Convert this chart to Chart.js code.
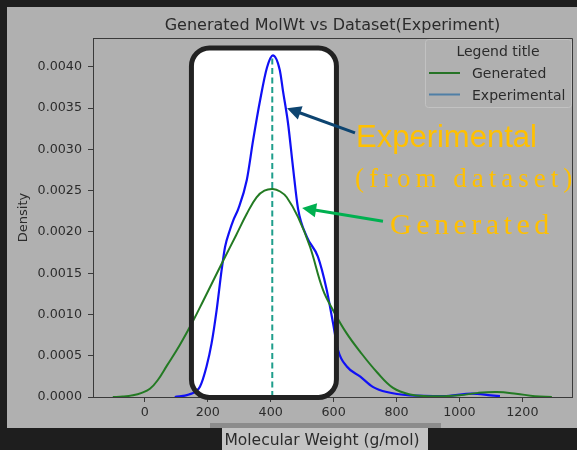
<!DOCTYPE html>
<html lang="en">
<head>
  <meta charset="UTF-8">
  <title>Generated MolWt vs Dataset</title>
  <style>
    body { margin: 0; background: #1e1e1e; }
    #wrap { width: 577px; height: 450px; position: relative; }
  </style>
</head>
<body>
<script src="https://cdn.jsdelivr.net/npm/chart.js"></script>
<div id="wrap"><canvas id="myChart"></canvas></div>

<script>
  // values
  const genX = [-102, -70, -38, -10, 16, 40, 70, 111, 153, 186, 216, 250, 290, 324, 355, 380, 407, 430, 451, 487, 525, 566, 600, 640, 684, 738, 789, 843, 900, 950, 1000, 1060, 1119, 1180, 1240, 1294];
  const genY = [0, 0.000005, 0.00002, 0.00005, 0.0001, 0.0002, 0.00038, 0.00063, 0.00092, 0.00117, 0.0014, 0.00166, 0.00196, 0.00222, 0.00242, 0.0025, 0.00252, 0.00249, 0.00242, 0.00218, 0.00182, 0.0013, 0.00104, 0.00078, 0.00055, 0.0003, 0.00011, 0.00003, 0.00001, 0.00001, 0.00002, 0.00005, 0.00006, 0.00004, 0.00001, 0];
  const expX = [95, 140, 175, 196, 212, 228, 244, 255, 270, 281, 297, 324, 344, 366, 388, 407, 429, 439, 455, 471, 487, 515, 550, 578, 598, 614, 642, 684, 726, 769, 843, 950, 1040, 1100, 1129];
  const expY = [0, 0.00003, 0.000125, 0.00037, 0.00065, 0.00105, 0.00154, 0.00182, 0.00202, 0.00214, 0.00228, 0.00263, 0.00311, 0.00359, 0.00399, 0.00414, 0.00396, 0.00371, 0.00332, 0.00278, 0.00228, 0.00194, 0.0017, 0.0013, 0.0009, 0.00057, 0.00037, 0.00025, 0.00012, 0.00006, 0.00002, 0.00001, 0.00004, 0.00002, 0.00001];
  const meanX = [405, 405];
  const meanY = [0, 0.00414];
  const xTicks = [0, 200, 400, 600, 800, 1000, 1200];
  const yTicks = [0, 0.0005, 0.001, 0.0015, 0.002, 0.0025, 0.003, 0.0035, 0.004];
  const seriesNames = ['Generated', 'Experimental'];
  const legendColors = ['#267326', '#4f7fa6'];

  const toPts = (xs, ys) => xs.map((x, i) => ({x: x, y: ys[i]}));
  const tickColor = '#2b2b2b';
  const spine = '#3a3a3a';

  function arrow(ctx, x1, y1, x2, y2, color) {
    const a = Math.atan2(y2 - y1, x2 - x1);
    const L = 14, W = 7;
    ctx.save();
    ctx.strokeStyle = color;
    ctx.fillStyle = color;
    ctx.lineWidth = 3;
    ctx.beginPath();
    ctx.moveTo(x1, y1);
    ctx.lineTo(x2 - Math.cos(a) * L * 0.8, y2 - Math.sin(a) * L * 0.8);
    ctx.stroke();
    ctx.beginPath();
    ctx.moveTo(x2, y2);
    ctx.lineTo(x2 - L * Math.cos(a) + W * Math.sin(a), y2 - L * Math.sin(a) - W * Math.cos(a));
    ctx.lineTo(x2 - L * Math.cos(a) - W * Math.sin(a), y2 - L * Math.sin(a) + W * Math.cos(a));
    ctx.closePath();
    ctx.fill();
    ctx.restore();
  }

  function roundBox(ctx, x1, y1, x2, y2, r) {
    ctx.beginPath();
    ctx.moveTo(x1 + r, y1);
    ctx.arcTo(x2, y1, x2, y2, r);
    ctx.arcTo(x2, y2, x1, y2, r);
    ctx.arcTo(x1, y2, x1, y1, r);
    ctx.arcTo(x1, y1, x2, y1, r);
    ctx.closePath();
  }

  const decor = {
    id: 'decor',
    beforeDraw(chart) {
      const ctx = chart.ctx;
      ctx.save();
      ctx.fillStyle = '#1e1e1e';
      ctx.fillRect(0, 0, 577, 450);
      ctx.fillStyle = '#b0b0b0';
      ctx.fillRect(7, 7, 570, 421);
      // strip under the axis label
      ctx.fillStyle = '#8c8c8c';
      ctx.fillRect(210, 423, 231, 5);
      ctx.fillStyle = '#c4c4c4';
      ctx.fillRect(222, 428, 206, 22);
      ctx.restore();
    },
    beforeDatasetsDraw(chart) {
      const ctx = chart.ctx, xs = chart.scales.x, ys = chart.scales.y;
      ctx.save();
      roundBox(ctx, xs.getPixelForValue(148), ys.getPixelForValue(0.00423),
               xs.getPixelForValue(609), ys.getPixelForValue(-0.000005), 18);
      ctx.fillStyle = '#ffffff';
      ctx.fill();
      ctx.restore();
    },
    afterDatasetsDraw(chart) {
      const ctx = chart.ctx, xs = chart.scales.x, ys = chart.scales.y;
      const a = chart.chartArea;
      ctx.save();
      // top and right spines
      ctx.strokeStyle = spine;
      ctx.lineWidth = 1;
      ctx.beginPath();
      ctx.moveTo(a.left, a.top + 0.5);
      ctx.lineTo(a.right + 0.5, a.top + 0.5);
      ctx.lineTo(a.right + 0.5, a.bottom);
      ctx.stroke();

      // rounded box outline
      roundBox(ctx, xs.getPixelForValue(148), ys.getPixelForValue(0.00423),
               xs.getPixelForValue(609), ys.getPixelForValue(-0.000005), 18);
      ctx.strokeStyle = '#222222';
      ctx.lineWidth = 5;
      ctx.stroke();

      // arrows
      arrow(ctx, xs.getPixelForValue(668), ys.getPixelForValue(0.0032),
            xs.getPixelForValue(452), ys.getPixelForValue(0.0035), '#0d4470');
      arrow(ctx, xs.getPixelForValue(757), ys.getPixelForValue(0.00213),
            xs.getPixelForValue(500), ys.getPixelForValue(0.00229), '#00b050');

      // annotation text
      ctx.fillStyle = '#ffc000';
      ctx.textBaseline = 'alphabetic';
      ctx.textAlign = 'left';
      ctx.font = '31px "Liberation Sans"';
      ctx.fillText('Experimental', 356, 147);
      ctx.letterSpacing = '5px';
      ctx.font = '27px "Liberation Serif"';
      ctx.fillText('(from dataset)', 355, 187);
      ctx.letterSpacing = '4.5px';
      ctx.font = '30px "Liberation Serif"';
      ctx.fillText('Generated', 390, 234);
      ctx.letterSpacing = '0px';

      // legend
      roundBox(ctx, 425.5, 39.5, 571.5, 107.5, 3);
      ctx.strokeStyle = '#c2c2c2';
      ctx.lineWidth = 1;
      ctx.stroke();
      ctx.fillStyle = tickColor;
      ctx.font = '14px "DejaVu Sans"';
      ctx.textAlign = 'center';
      ctx.fillText('Legend title', 498, 56);
      ctx.textAlign = 'left';
      seriesNames.forEach((name, i) => {
        const y = 73 + i * 21.5;
        ctx.strokeStyle = legendColors[i];
        ctx.lineWidth = 2;
        ctx.beginPath();
        ctx.moveTo(429, y);
        ctx.lineTo(460, y);
        ctx.stroke();
        ctx.fillStyle = tickColor;
        ctx.fillText(name, 472, y + 5);
      });

      // titles
      ctx.fillStyle = tickColor;
      ctx.font = '16px "DejaVu Sans"';
      ctx.textAlign = 'center';
      ctx.fillText('Generated MolWt vs Dataset(Experiment)', (a.left + a.right) / 2, 30);
      ctx.font = '15.5px "DejaVu Sans"';
      ctx.fillText('Molecular Weight (g/mol)', 322, 445);
      ctx.save();
      ctx.translate(27, (a.top + a.bottom) / 2);
      ctx.rotate(-Math.PI / 2);
      ctx.font = '13px "DejaVu Sans"';
      ctx.fillText('Density', 0, 0);
      ctx.restore();
      ctx.restore();
    }
  };

  const config = {
    type: 'line',
    data: {
      datasets: [{
        label: seriesNames[0],
        data: toPts(genX, genY),
        borderColor: '#237a23',
        borderWidth: 2,
        pointRadius: 0,
        tension: 0.4
      }, {
        label: seriesNames[1],
        data: toPts(expX, expY),
        borderColor: '#1010f5',
        borderWidth: 2.2,
        pointRadius: 0,
        cubicInterpolationMode: 'monotone'
      }, {
        label: 'mean',
        data: toPts(meanX, meanY),
        borderColor: '#1f9e8c',
        borderWidth: 2,
        borderDash: [6, 3.5],
        pointRadius: 0
      }]
    },
    options: {
      responsive: true,
      maintainAspectRatio: false,
      devicePixelRatio: 1,
      animation: false,
      layout: { padding: { top: 38, right: 5, left: 0, bottom: 0 } },
      plugins: { legend: { display: false }, tooltip: { enabled: false } },
      scales: {
        x: {
          type: 'linear',
          min: -165,
          max: 1358,
          afterBuildTicks: s => { s.ticks = xTicks.map(v => ({value: v})); },
          afterFit: s => { s.height = 53; },
          ticks: { color: tickColor, font: { family: 'DejaVu Sans', size: 12.7 }, padding: 3, maxRotation: 0, autoSkip: false, callback: v => String(v) },
          grid: { drawOnChartArea: false, drawTicks: true, tickLength: 5, color: spine },
          border: { display: true, color: spine, width: 1 }
        },
        y: {
          min: 0,
          max: 0.00435,
          afterBuildTicks: s => { s.ticks = yTicks.map(v => ({value: v})); },
          afterFit: s => { s.width = 93; },
          ticks: { color: tickColor, font: { family: 'DejaVu Sans', size: 12.7 }, padding: 6, callback: v => v.toFixed(4) },
          grid: { drawOnChartArea: false, drawTicks: true, tickLength: 5, color: spine },
          border: { display: true, color: spine, width: 1 }
        }
      }
    },
    plugins: [decor]
  };

  const myChart = new Chart(document.getElementById('myChart'), config);
</script>
</body>
</html>
